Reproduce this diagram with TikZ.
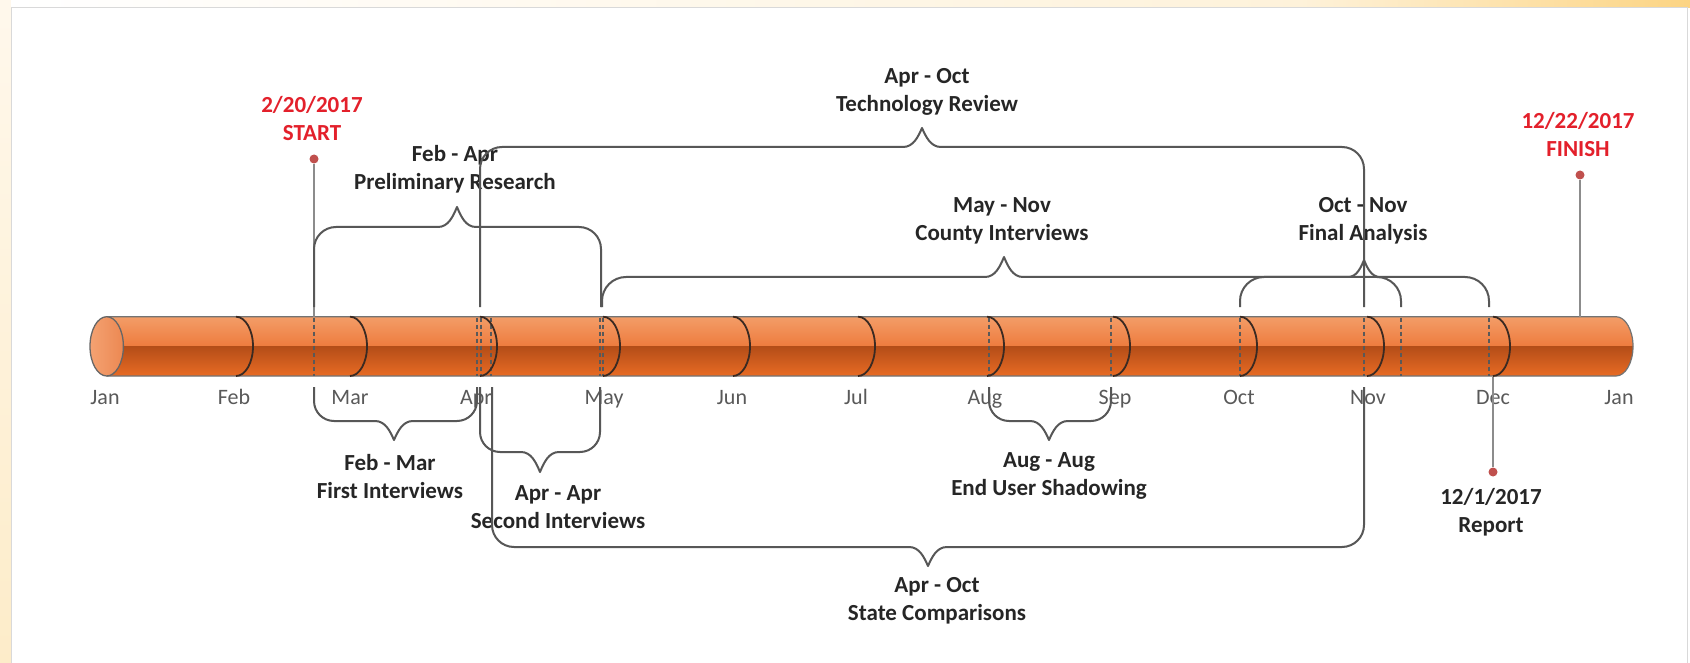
\documentclass[tikz,border=0pt]{standalone}
\usepackage{fontspec}
\setmainfont{Carlito}
\definecolor{lab}{HTML}{262626}
\definecolor{redl}{HTML}{E3202B}
\definecolor{mon}{HTML}{595959}
\definecolor{brc}{HTML}{575757}
\definecolor{markc}{HTML}{8C8C8C}
\definecolor{dotc}{HTML}{C0504D}
\definecolor{cylA}{HTML}{F39D68}
\definecolor{cylB}{HTML}{EE7B3D}
\definecolor{cylC}{HTML}{B44D18}
\definecolor{cylD}{HTML}{E86B24}
\definecolor{arcc}{HTML}{3A2A22}
\definecolor{endA}{HTML}{F4A272}
\definecolor{endB}{HTML}{EC8852}
\definecolor{stripA}{HTML}{FFF8EC}
\definecolor{stripB}{HTML}{FDECC9}
\definecolor{topA}{HTML}{FEF2DA}
\definecolor{topB}{HTML}{FCD483}
\tikzset{
  lbl/.style={font=\fontsize{23}{28}\selectfont\bfseries, text=lab, align=center, inner sep=0pt},
  redlbl/.style={lbl, text=redl},
  mlbl/.style={font=\fontsize{22}{26}\selectfont, text=mon, inner sep=0pt, anchor=base},
  bline/.style={draw=brc, line width=2pt, line join=round},
  markl/.style={draw=markc, line width=2pt},
  dotn/.style={circle, fill=dotc, inner sep=0pt, minimum size=9pt},
  cyldash/.style={draw=black!65, line width=1.6pt, dash pattern=on 4pt off 3pt},
  arcl/.style={draw=arcc, line width=1.8pt},
  cylout/.style={draw=black!55, line width=1.2pt},
  framel/.style={draw=black!15, line width=1pt}
}
% brace: #1 x1, #2 x2, #3 y0 (leg foot), #4 yh (bar), #5 xt, #6 yt (tip), #7 signed corner radius, #8 tip half width
\newcommand\tlbrace[8]{%
  \draw[bline] (#1,#3) -- ({#1},{#4+(#7)})
    .. controls ({#1},{#4+0.448*(#7)}) and ({#1+0.448*abs(#7)},{#4}) .. ({#1+abs(#7)},{#4})
    -- ({#5-#8},{#4})
    .. controls ({#5-0.45*#8},{#4}) and ({#5-0.2*#8},{#6+0.45*(#4-#6)}) .. ({#5},{#6})
    .. controls ({#5+0.2*#8},{#6+0.45*(#4-#6)}) and ({#5+0.45*#8},{#4}) .. ({#5+#8},{#4})
    -- ({#2-abs(#7)},{#4})
    .. controls ({#2-0.448*abs(#7)},{#4}) and ({#2},{#4+0.448*(#7)}) .. ({#2},{#4+(#7)})
    -- (#2,#3);}
\newcommand\monarc[1]{%
  \draw[arcl] (#1,316.7) .. controls ({#1+9.4},316.7) and ({#1+17},330) .. ({#1+17},346.35)
    .. controls ({#1+17},362.7) and ({#1+9.4},376) .. (#1,376);}
\newcommand\cyldashline[1]{\draw[cyldash] (#1,317.5) -- (#1,375.5);}
\begin{document}
\begin{tikzpicture}[x=1pt,y=-1pt]
\useasboundingbox (0,0) rectangle (1690,663);
% background
\fill[white] (0,0) rectangle (1690,663);
\shade[top color=stripA, bottom color=stripB] (0,0) rectangle (11,663);
\shade[left color=white, right color=topA] (11,0) rectangle (1300,8);
\shade[left color=topA, right color=topB] (1300,0) rectangle (1690,8);

% cylinder body
\begin{scope}
\clip (106.7,316.7) -- (1616,316.7) .. controls (1625.4,316.7) and (1633,330) .. (1633,346.35)
  .. controls (1633,362.7) and (1625.4,376) .. (1616,376) -- (106.7,376) -- cycle;
\shade[top color=cylA, bottom color=cylB] (90,316.7) rectangle (1640,346.6);
\shade[top color=cylC, bottom color=cylD] (90,346.4) rectangle (1640,376);
\end{scope}
\draw[cylout] (106.7,316.7) -- (1616,316.7) .. controls (1625.4,316.7) and (1633,330) .. (1633,346.35)
  .. controls (1633,362.7) and (1625.4,376) .. (1616,376) -- (106.7,376);
\shade[left color=endA, right color=endB] (106.7,346.35) ellipse[x radius=16.7, y radius=29.65];
\draw[draw=black!60, line width=1.3pt] (106.7,346.35) ellipse[x radius=16.7, y radius=29.65];

% dashed range marks
\foreach \xx in {314,477,481,491,600,603,989,1111,1240,1364,1401,1489} {\cyldashline{\xx}}
% month dividers
\foreach \xx in {236,350,480,603,733,858,987,1113,1240,1367,1493} {\monarc{\xx}}

% month labels
\node[mlbl] (m1) at (105,404) {Jan};
\node[mlbl] (m2) at (234,404) {Feb};
\node[mlbl] (m3) at (350,404) {Mar};
\node[mlbl] (m4) at (476,404) {Apr};
\node[mlbl] (m5) at (604,404) {May};
\node[mlbl] (m6) at (732,404) {Jun};
\node[mlbl] (m7) at (856,404) {Jul};
\node[mlbl] (m8) at (985,404) {Aug};
\node[mlbl] (m9) at (1115,404) {Sep};
\node[mlbl] (m10) at (1239,404) {Oct};
\node[mlbl] (m11) at (1368,404) {Nov};
\node[mlbl] (m12) at (1493,404) {Dec};
\node[mlbl] (m13) at (1619,404) {Jan};

% labels
\node[redlbl] (start) at (312,119) {2/20/2017\\START};
\node[redlbl] (finish) at (1578,135) {12/22/2017\\FINISH};
\node[lbl] (prelim) at (455,169.5) {Feb - Apr\\Preliminary Research};
\node[lbl] (tech) at (927,92) {Apr - Oct\\Technology Review};
\node[lbl] (county) at (1002,221) {May - Nov\\County Interviews};
\node[lbl] (final) at (1363,221) {Oct - Nov\\Final Analysis};
\node[lbl] (first) at (390,476.5) {Feb - Mar\\First Interviews};
\node[lbl] (second) at (558,507.5) {Apr - Apr\\Second Interviews};
\node[lbl] (shadow) at (1049,476) {Aug - Aug\\End User Shadowing};
\node[lbl] (state) at (937,601) {Apr - Oct\\State Comparisons};
\node[lbl] (report) at (1491,512) {12/1/2017\\Report};

% milestone markers
\node[dotn] (sdot) at (314,159) {};
\node[dotn] (fdot) at (1580,175) {};
\node[dotn] (rdot) at (1493,472) {};
\coordinate (sfoot) at (314,316.7);
\coordinate (ffoot) at (1580,316.7);
\coordinate (rfoot) at (1493,376.5);
\draw[markl] (sdot) -- (sfoot);
\draw[markl] (fdot) -- (ffoot);
\draw[markl] (rfoot) -- (rdot);

% braces above
\tlbrace{314}{601}{307}{227}{457}{207}{22}{19}
\tlbrace{480}{1364}{307}{147}{922}{128}{22}{19}
\tlbrace{602}{1401}{307}{277}{1004}{257}{24}{19}
\tlbrace{1240}{1489}{307}{277}{1364}{260}{24}{16}
% braces below
\tlbrace{314}{477}{387}{421}{394}{440}{-20}{19}
\tlbrace{480}{600}{387}{452}{540}{472}{-20}{19}
\tlbrace{492}{1364}{387}{547}{928}{566}{-22}{19}
\tlbrace{989}{1111}{387}{421}{1049}{440}{-20}{19}

% right margin and frame
\fill[white] (1645,8.5) rectangle (1690,663);
\draw[framel] (11,663) -- (11,8) -- (1687,8) -- (1687,663);
\end{tikzpicture}
\end{document}
